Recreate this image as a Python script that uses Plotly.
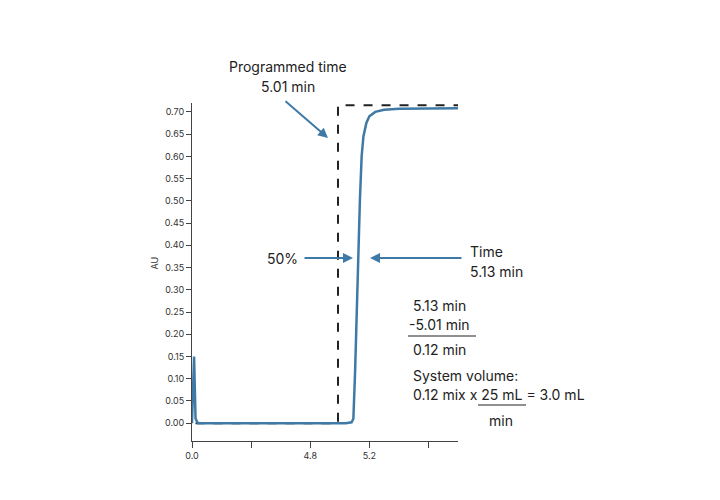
import plotly.graph_objects as go

# x in tick-index units: 0 -> "0.0", 2 -> "4.8", 3 -> "5.2"
tick_vals = [0, 1, 2, 3, 4]
tick_text = ["0.0", "", "4.8", "5.2", ""]
y_ticks = [round(i * 0.05, 2) for i in range(15)]

trace_x = [0.0, 0.02, 0.035, 0.06, 0.1, 1.0, 2.0, 2.6, 2.7, 2.73, 2.76, 2.79, 2.81, 2.84, 2.87, 2.9, 2.95, 3.0, 3.1, 3.25, 3.5, 4.0, 4.5]
trace_y = [0.0, 0.08, 0.15, 0.01, 0.0, 0.0, 0.0, 0.0, 0.002, 0.01, 0.12, 0.28, 0.36, 0.5, 0.6, 0.645, 0.675, 0.69, 0.70, 0.705, 0.707, 0.708, 0.708]
prog_x = [0.06, 2.47, 2.47, 4.5]
prog_y = [0.0, 0.0, 0.715, 0.715]

L, T, W, H = 184, 95, 266, 338
def px(x): return (x - L) / W
def py(y): return (T + H - y) / H

fig = go.Figure()
fig.add_trace(go.Scatter(x=prog_x, y=prog_y, mode="lines", line=dict(color="#222", width=2, dash="dash")))
fig.add_trace(go.Scatter(x=trace_x, y=trace_y, mode="lines", line=dict(color="#3f7aa6", width=2.5)))

font = dict(family="Inter, Roboto, sans-serif", size=14, color="#222")
ann = []
def txt(x, y, s, xa="left"):
    ann.append(dict(x=px(x), y=py(y), xref="paper", yref="paper", text=s, showarrow=False, xanchor=xa, yanchor="middle", font=font))
def arrow(x0, y0, x1, y1):
    ann.append(dict(x=px(x1), y=py(y1), ax=px(x0), ay=py(y0), xref="x domain", yref="y domain", axref="x domain", ayref="y domain",
                    text="", showarrow=True, arrowhead=2, arrowsize=1, arrowwidth=2, arrowcolor="#3f7aa6"))
txt(280, 58, "Programmed time", "center")
txt(280, 78, "5.01 min", "center")
arrow(276, 92, 320, 130)
txt(257, 250, "50%")
arrow(295, 250, 345, 250)
txt(460, 243, "Time")
txt(460, 263, "5.13 min")
arrow(455, 250, 362, 250)
txt(403, 297, "5.13 min")
txt(399, 316, "-5.01 min")
txt(403, 341, "0.12 min")
txt(403, 367, "System volume:")
txt(403, 386, "0.12 mix x 25 mL = 3.0 mL")
txt(493, 412, "min", "center")
ann.append(dict(x=px(138), y=py(255), xref="paper", yref="paper", text="AU", textangle=-90, showarrow=False,
                font=dict(family="Inter, sans-serif", size=9, color="#333")))

shapes = [
    dict(type="line", xref="paper", yref="paper", x0=px(400), x1=px(468), y0=py(328), y1=py(328), line=dict(color="#222", width=1.2)),
    dict(type="line", xref="paper", yref="paper", x0=px(470), x1=px(518), y0=py(397), y1=py(397), line=dict(color="#222", width=1.2)),
]

fig.update_layout(
    width=720, height=500, showlegend=False, plot_bgcolor="white", paper_bgcolor="white",
    margin=dict(l=L, r=720 - L - W, t=T, b=500 - T - H),
    annotations=ann, shapes=shapes,
    xaxis=dict(range=[0, 4.5], tickvals=tick_vals, ticktext=tick_text, showgrid=False, zeroline=False,
               showline=True, linecolor="#444", ticks="outside", ticklen=6, tickcolor="#444",
               tickfont=dict(family="Inter, sans-serif", size=9, color="#333")),
    yaxis=dict(range=[-0.04, 0.72], tickvals=y_ticks, tickformat=".2f", showgrid=False, zeroline=False,
               showline=True, linecolor="#444", ticks="outside", ticklen=5, tickcolor="#444",
               tickfont=dict(family="Inter, sans-serif", size=9, color="#333")),
)
fig.write_html("out.html")
